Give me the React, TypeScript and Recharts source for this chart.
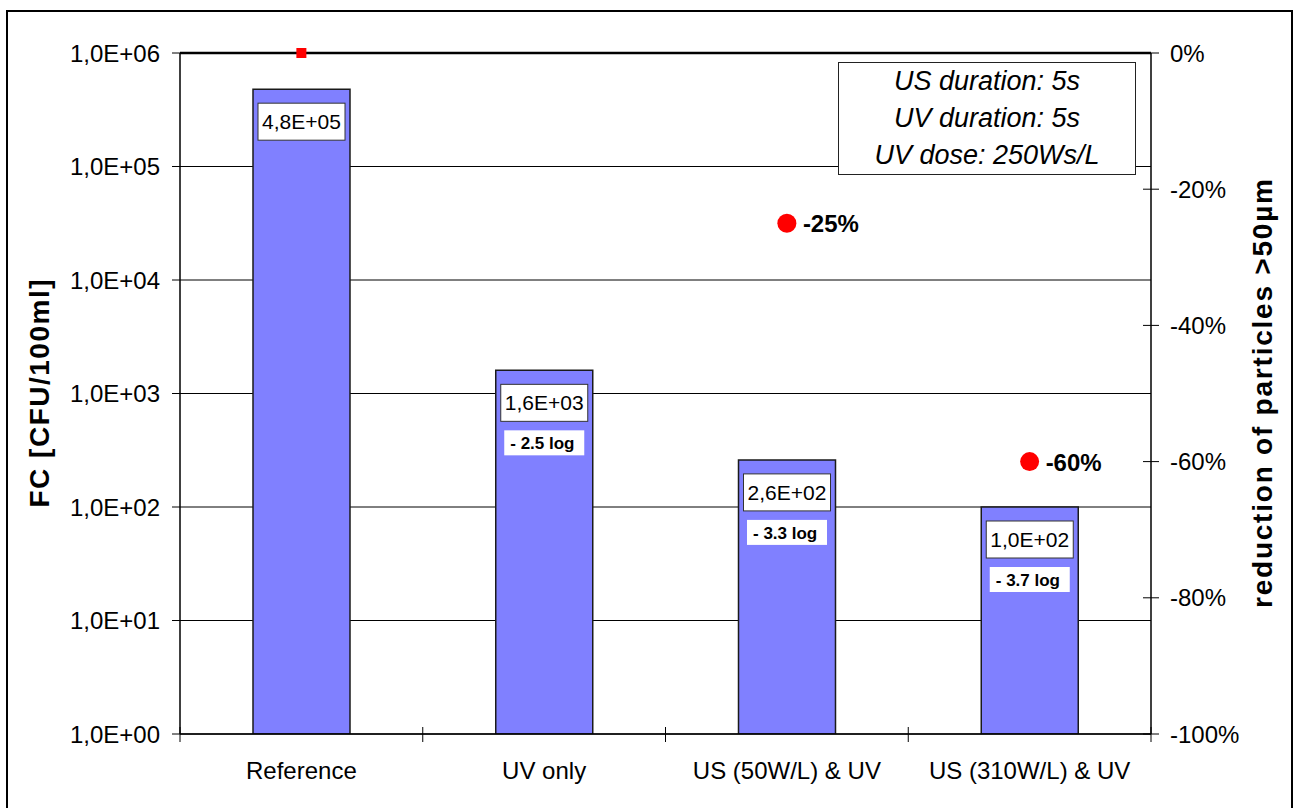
import React from "react";
import {
  ComposedChart,
  Bar,
  Line,
  XAxis,
  YAxis,
  CartesianGrid,
  ReferenceLine,
  LabelList,
} from "recharts";

const categories = ["Reference", "UV only", "US (50W/L) & UV", "US (310W/L) & UV"];
const fcValues = [480000, 1600, 260, 100];
const fcLabels = ["4,8E+05", "1,6E+03", "2,6E+02", "1,0E+02"];
const logReductions = ["", "- 2.5 log", "- 3.3 log", "- 3.7 log"];
const particleReduction = [0, null, -25, -60];
const particleLabels = ["", "", "-25%", "-60%"];
const fcTicks = [1, 10, 100, 1000, 10000, 100000, 1000000];
const pctTicks = [-100, -80, -60, -40, -20, 0];
const noteLines = ["US duration: 5s", "UV duration: 5s", "UV dose: 250Ws/L"];

const FONT = "Arial, 'Liberation Sans', sans-serif";
const BAR = "#8080FF";
const RED = "#FF0000";
const W = 1296;
const H = 808;
const PLOT_W = 971;

const data = categories.map((name, i) => ({
  name,
  fc: fcValues[i],
  particles: particleReduction[i],
}));

const fmtSci = (v: number) => "1,0E+" + String(Math.round(Math.log10(v))).padStart(2, "0");

function CatTick(props: any) {
  const { x, y, payload, index } = props;
  const half = PLOT_W / categories.length / 2;
  return (
    <g>
      <line x1={x - half} x2={x - half} y1={y - 7} y2={y + 8} stroke="#000" />
      {index === categories.length - 1 && (
        <line x1={x + half} x2={x + half} y1={y - 7} y2={y + 8} stroke="#000" />
      )}
      <text x={x} y={y + 45} textAnchor="middle" fontSize={24} fontFamily={FONT} fill="#000">
        {payload.value}
      </text>
    </g>
  );
}

function PctTick(props: any) {
  const { x, y, payload } = props;
  const axisX = x - 19;
  return (
    <g>
      <line x1={axisX - 8} x2={axisX + 8} y1={y} y2={y} stroke="#000" />
      <text x={x} y={y} dy="0.355em" fontSize={24} fontFamily={FONT} fill="#000">
        {payload.value}%
      </text>
    </g>
  );
}

function BarLabels(props: any) {
  const { x, y, width, index } = props;
  const cx = x + width / 2;
  const top = y + 14;
  return (
    <g fontFamily={FONT}>
      <rect x={cx - 43.5} y={top} width={87} height={37} fill="#fff" stroke="#333" />
      <text x={cx} y={top + 26} textAnchor="middle" fontSize={21} fill="#000">
        {fcLabels[index]}
      </text>
      {logReductions[index] && (
        <g>
          <rect x={cx - 40} y={top + 46} width={80} height={25} fill="#fff" />
          <text x={cx - 34} y={top + 65} fontSize={17} fontWeight="bold" fill="#000">
            {logReductions[index]}
          </text>
        </g>
      )}
    </g>
  );
}

function renderDot(props: any) {
  const { cx, cy, index, value } = props;
  if (value == null || cx == null || cy == null) return <g key={"d" + index} />;
  if (!particleLabels[index]) {
    return <rect key={"d" + index} x={cx - 5} y={cy - 5} width={10} height={10} fill={RED} />;
  }
  return (
    <g key={"d" + index}>
      <circle cx={cx} cy={cy} r={9.5} fill={RED} />
      <text x={cx + 16} y={cy + 9} fontSize={24} fontWeight="bold" fontFamily={FONT} fill="#000">
        {particleLabels[index]}
      </text>
    </g>
  );
}

function axisTitle(text: string, dx: number, length: number) {
  return (p: any) => {
    const vb = p.viewBox;
    const cx = vb.x + dx;
    const cy = vb.y + vb.height / 2;
    return (
      <text
        x={cx}
        y={cy}
        transform={`rotate(-90 ${cx} ${cy})`}
        textAnchor="middle"
        fontSize={28}
        fontWeight="bold"
        fontFamily={FONT}
        textLength={length}
        lengthAdjust="spacing"
        fill="#000"
      >
        {text}
      </text>
    );
  };
}

export default function App() {
  return (
    <div style={{ position: "absolute", left: 0, top: 0, width: W, height: H, background: "#fff" }}>
      <div
        style={{
          position: "absolute",
          left: 6,
          top: 10,
          width: W - 6 - 3,
          height: H,
          border: "2px solid #000",
          boxSizing: "border-box",
        }}
      />
      <ComposedChart
        width={W}
        height={H}
        data={data}
        margin={{ top: 53, right: 0, bottom: 24, left: 8 }}
        barCategoryGap={0}
        style={{ position: "absolute", left: 0, top: 0 }}
      >
        <CartesianGrid yAxisId="left" vertical={false} stroke="#000" horizontalValues={fcTicks} />
        <XAxis
          dataKey="name"
          height={50}
          interval={0}
          tickLine={false}
          tickSize={0}
          tickMargin={0}
          axisLine={{ stroke: "#000", strokeWidth: 1.5 }}
          tick={<CatTick />}
        />
        <YAxis
          yAxisId="left"
          width={172}
          scale="log"
          type="number"
          domain={[1, 1000000]}
          ticks={fcTicks}
          allowDataOverflow
          tickFormatter={fmtSci}
          tickSize={8}
          tickMargin={12}
          tickLine={{ stroke: "#000" }}
          axisLine={{ stroke: "#000", strokeWidth: 1.5 }}
          tick={{ fontSize: 24, fill: "#000", fontFamily: FONT }}
          label={{ content: axisTitle("FC [CFU/100ml]", 41, 228) }}
        />
        <YAxis
          yAxisId="right"
          orientation="right"
          width={145}
          type="number"
          domain={[-100, 0]}
          ticks={pctTicks}
          tickSize={8}
          tickMargin={11}
          tickLine={false}
          axisLine={{ stroke: "#000", strokeWidth: 1.5 }}
          tick={<PctTick />}
          label={{ content: axisTitle("reduction of particles >50µm", 121, 429) }}
        />
        <ReferenceLine yAxisId="left" y={1000000} stroke="#000" strokeWidth={2.5} />
        <Bar
          yAxisId="left"
          dataKey="fc"
          barSize={97}
          fill={BAR}
          stroke="#1a1a1a"
          strokeWidth={1.5}
          isAnimationActive={false}
        >
          <LabelList dataKey="fc" content={<BarLabels />} />
        </Bar>
        <Line
          yAxisId="right"
          dataKey="particles"
          stroke="none"
          dot={renderDot}
          activeDot={false}
          legendType="none"
          isAnimationActive={false}
        />
      </ComposedChart>
      <div
        style={{
          position: "absolute",
          left: 838,
          top: 62,
          width: 298,
          height: 113,
          border: "1px solid #222",
          boxSizing: "border-box",
          background: "#fff",
          display: "flex",
          flexDirection: "column",
          justifyContent: "center",
          alignItems: "center",
          fontFamily: FONT,
          fontStyle: "italic",
          fontSize: 27,
          lineHeight: "37px",
          color: "#000",
        }}
      >
        {noteLines.map((t) => (
          <div key={t}>{t}</div>
        ))}
      </div>
    </div>
  );
}
